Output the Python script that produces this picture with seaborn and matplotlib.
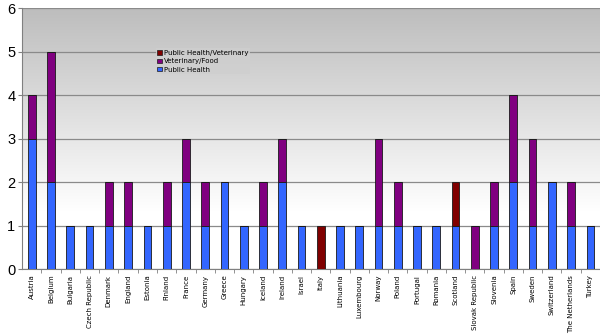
import numpy as np
import pandas as pd
import matplotlib
matplotlib.use("Agg")
import matplotlib.pyplot as plt
from matplotlib.patches import Patch
import seaborn as sns

countries = ["Austria", "Belgium", "Bulgaria", "Czech Republic", "Denmark", "England",
             "Estonia", "Finland", "France", "Germany", "Greece", "Hungary", "Iceland",
             "Ireland", "Israel", "Italy", "Lithuania", "Luxembourg", "Norway", "Poland",
             "Portugal", "Romania", "Scotland", "Slovak Republic", "Slovenia", "Spain",
             "Sweden", "Switzerland", "The Netherlands", "Turkey"]
public_health = [3, 2, 1, 1, 1, 1, 1, 1, 2, 1, 2, 1, 1, 2, 1, 0, 1, 1, 1, 1,
                 1, 1, 1, 0, 1, 2, 1, 2, 1, 1]
veterinary_food = [1, 3, 0, 0, 1, 1, 0, 1, 1, 1, 0, 0, 1, 1, 0, 0, 0, 0, 2, 1,
                   0, 0, 0, 1, 1, 2, 2, 0, 1, 0]
ph_veterinary = [0, 0, 0, 0, 0, 0, 0, 0, 0, 0, 0, 0, 0, 0, 0, 1, 0, 0, 0, 0,
                 0, 0, 1, 0, 0, 0, 0, 0, 0, 0]
series_names = ["Public Health/Veterinary", "Veterinary/Food", "Public Health"]
y_ticks = [0, 1, 2, 3, 4, 5, 6]

c_ph = "#3366ff"
c_vf = "#800080"
c_phv = "#800000"

df = pd.DataFrame({"country": countries, "ph": public_health,
                   "vf": veterinary_food, "phv": ph_veterinary})
df["base_vf"] = df["ph"]
df["base_phv"] = df["ph"] + df["vf"]

fig = plt.figure(figsize=(6, 3.36), dpi=100)
fig.patch.set_facecolor("white")
ax = fig.add_axes([0.037, 0.199, 0.963, 0.777])

# grey at the top fading to white towards the bottom
top = 0.74
fade = 0.78
frac = np.linspace(0, 1, 256).reshape(-1, 1)
level = top + (1 - top) * np.clip(frac / fade, 0, 1)
img = np.repeat(level[:, :, None], 3, axis=2)
ax.imshow(img, extent=[0, 1, 0, 1], transform=ax.transAxes, aspect="auto",
          zorder=0, interpolation="bilinear")

kw = dict(width=0.4, edgecolor="#1a1a1a", linewidth=0.6, zorder=3, ax=ax)
sns.barplot(data=df, x="country", y="ph", color=c_ph, saturation=1, **kw)
sns.barplot(data=df, x="country", y="vf", bottom=df["base_vf"], color=c_vf,
            saturation=1, **kw)
sns.barplot(data=df, x="country", y="phv", bottom=df["base_phv"], color=c_phv,
            saturation=1, **kw)

ax.set_xlim(-0.5, len(countries) - 0.5)
ax.set_ylim(0, 6)
ax.set_yticks(y_ticks)
ax.set_yticklabels([str(t) for t in y_ticks], fontsize=10.5,
                   fontfamily="Liberation Sans")
ax.yaxis.grid(True, color="#8a8a8a", linewidth=0.9, zorder=1)
ax.set_axisbelow(True)
ax.tick_params(axis="y", length=3, color="#808080", pad=2)

ax.set_xticks(range(len(countries)))
ax.set_xticklabels(countries, rotation=90, fontsize=5, fontfamily="DejaVu Sans")
ax.tick_params(axis="x", length=0, pad=4)
ax.set_xticks(np.arange(len(countries)) + 0.5, minor=True)
ax.tick_params(axis="x", which="minor", length=3, color="#808080")
ax.set_xlabel("")
ax.set_ylabel("")

for s in ["top", "right"]:
    ax.spines[s].set_visible(False)
ax.spines["left"].set_color("#808080")
ax.spines["bottom"].set_color("#808080")

handles = [Patch(facecolor=c_phv, edgecolor="#1a1a1a", linewidth=0.5),
           Patch(facecolor=c_vf, edgecolor="#1a1a1a", linewidth=0.5),
           Patch(facecolor=c_ph, edgecolor="#1a1a1a", linewidth=0.5)]
leg = ax.legend(handles, series_names, loc="upper left",
                bbox_to_anchor=(0.225, 0.86), fontsize=5, frameon=True,
                handlelength=0.6, handleheight=0.6, handletextpad=0.3,
                labelspacing=0.35, borderpad=0.25, fancybox=False)
# legend box blends into the background behind it
legend_level = top + (1 - top) * (0.21 / fade)
leg.get_frame().set_facecolor((legend_level,) * 3)
leg.get_frame().set_edgecolor("none")
leg.set_zorder(5)

fig.savefig("out.png", dpi=100)
